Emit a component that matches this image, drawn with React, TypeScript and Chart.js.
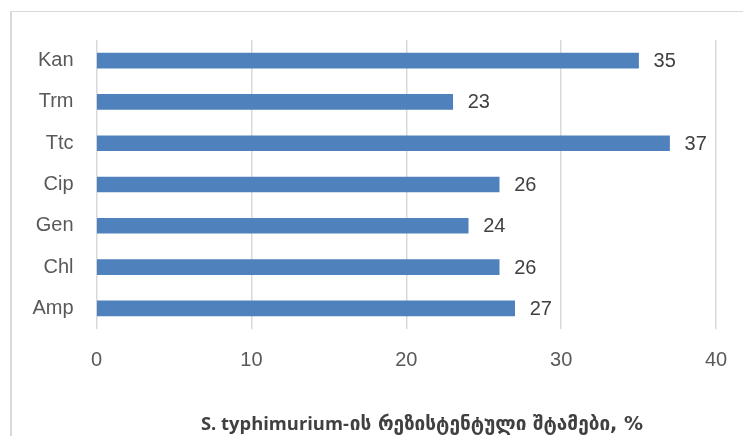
import React, { useEffect, useRef } from "react";
import { Chart, registerables } from "chart.js";

Chart.register(...registerables);

const categories = ["Kan", "Trm", "Ttc", "Cip", "Gen", "Chl", "Amp"];
const values = [35, 23, 37, 26, 24, 26, 27];
const xTicks = [0, 10, 20, 30, 40];
const titleLatin = "S. typhimurium-";
const titleGeorgian = "ის რეზისტენტული შტამები, %";

const FONT = "'Liberation Sans', Arial, sans-serif";
const LATIN_FONT = "'Open Sans', 'Liberation Sans', sans-serif";
const GEO_FONT = "'DejaVu Sans', sans-serif";

const labelPlugin = {
  id: "valueLabels",
  afterDatasetsDraw(chart: any) {
    const ctx = chart.ctx;
    const meta = chart.getDatasetMeta(0);
    ctx.save();
    ctx.font = `20px ${FONT}`;
    ctx.fillStyle = "#404040";
    ctx.textAlign = "left";
    ctx.textBaseline = "middle";
    meta.data.forEach((bar: any, i: number) => {
      ctx.fillText(String(values[i]), bar.x + 15, bar.y + 1);
    });
    ctx.restore();
  },
};

function fitSize(ctx: any, text: string, family: string, base: number, target: number) {
  ctx.font = `bold ${base}px ${family}`;
  const w = ctx.measureText(text).width;
  return w > 0 ? (base * target) / w : base;
}

const titlePlugin = {
  id: "bottomTitle",
  afterDraw(chart: any) {
    const ctx = chart.ctx;
    ctx.save();
    ctx.fillStyle = "#404040";
    ctx.textAlign = "left";
    ctx.textBaseline = "alphabetic";
    const x0 = 201;
    const latinSize = fitSize(ctx, titleLatin, LATIN_FONT, 16, 148);
    ctx.font = `bold ${latinSize}px ${LATIN_FONT}`;
    ctx.fillText(titleLatin, x0, 430);
    const x1 = x0 + ctx.measureText(titleLatin).width + 1;
    const geoSize = fitSize(ctx, titleGeorgian, GEO_FONT, 16, 643 - x1);
    ctx.font = `bold ${geoSize}px ${GEO_FONT}`;
    ctx.fillText(titleGeorgian, x1, 430);
    ctx.restore();
  },
};

export default function App() {
  const ref = useRef<HTMLCanvasElement | null>(null);
  useEffect(() => {
    const canvas = ref.current!;
    const chart = new Chart(canvas, {
      type: "bar",
      data: {
        labels: categories,
        datasets: [
          {
            data: values,
            backgroundColor: "#4f81bd",
            borderWidth: 0,
            barThickness: 15,
          },
        ],
      },
      options: {
        indexAxis: "y",
        animation: false,
        responsive: false,
        maintainAspectRatio: false,
        layout: { padding: { left: 0, top: 40, right: 27, bottom: 64 } },
        plugins: {
          legend: { display: false },
          tooltip: { enabled: false },
          title: { display: false },
        },
        scales: {
          x: {
            min: 0,
            max: 40,
            afterBuildTicks(scale: any) {
              scale.ticks = xTicks.map((v) => ({ value: v }));
            },
            grid: {
              color: "#d9d9d9",
              lineWidth: 1.5,
              drawTicks: false,
            },
            border: { display: false },
            ticks: {
              color: "#595959",
              font: { family: FONT, size: 20 },
              padding: 19,
              maxRotation: 0,
              autoSkip: false,
            },
            afterFit(scale: any) {
              scale.height = 43;
              scale.paddingLeft = 0;
              scale.paddingRight = 0;
            },
          },
          y: {
            grid: { display: false },
            border: { display: false },
            ticks: {
              color: "#595959",
              font: { family: FONT, size: 20 },
              padding: 15,
            },
            afterFit(scale: any) {
              scale.width = 96.5;
              scale.paddingTop = 0;
              scale.paddingBottom = 0;
            },
          },
        },
      },
      plugins: [labelPlugin, titlePlugin],
    });
    return () => chart.destroy();
  }, []);

  return (
    <div
      style={{
        position: "fixed",
        left: 0,
        top: 0,
        width: 743,
        height: 436,
        background: "#fff",
        overflow: "hidden",
      }}
    >
      <div
        style={{
          position: "absolute",
          left: 10,
          top: 11,
          width: 800,
          height: 500,
          borderLeft: "2px solid #d9d9d9",
          borderTop: "1px solid #d9d9d9",
        }}
      />
      <canvas
        ref={ref}
        width={743}
        height={436}
        style={{ position: "absolute", left: 0, top: 0 }}
      />
    </div>
  );
}
